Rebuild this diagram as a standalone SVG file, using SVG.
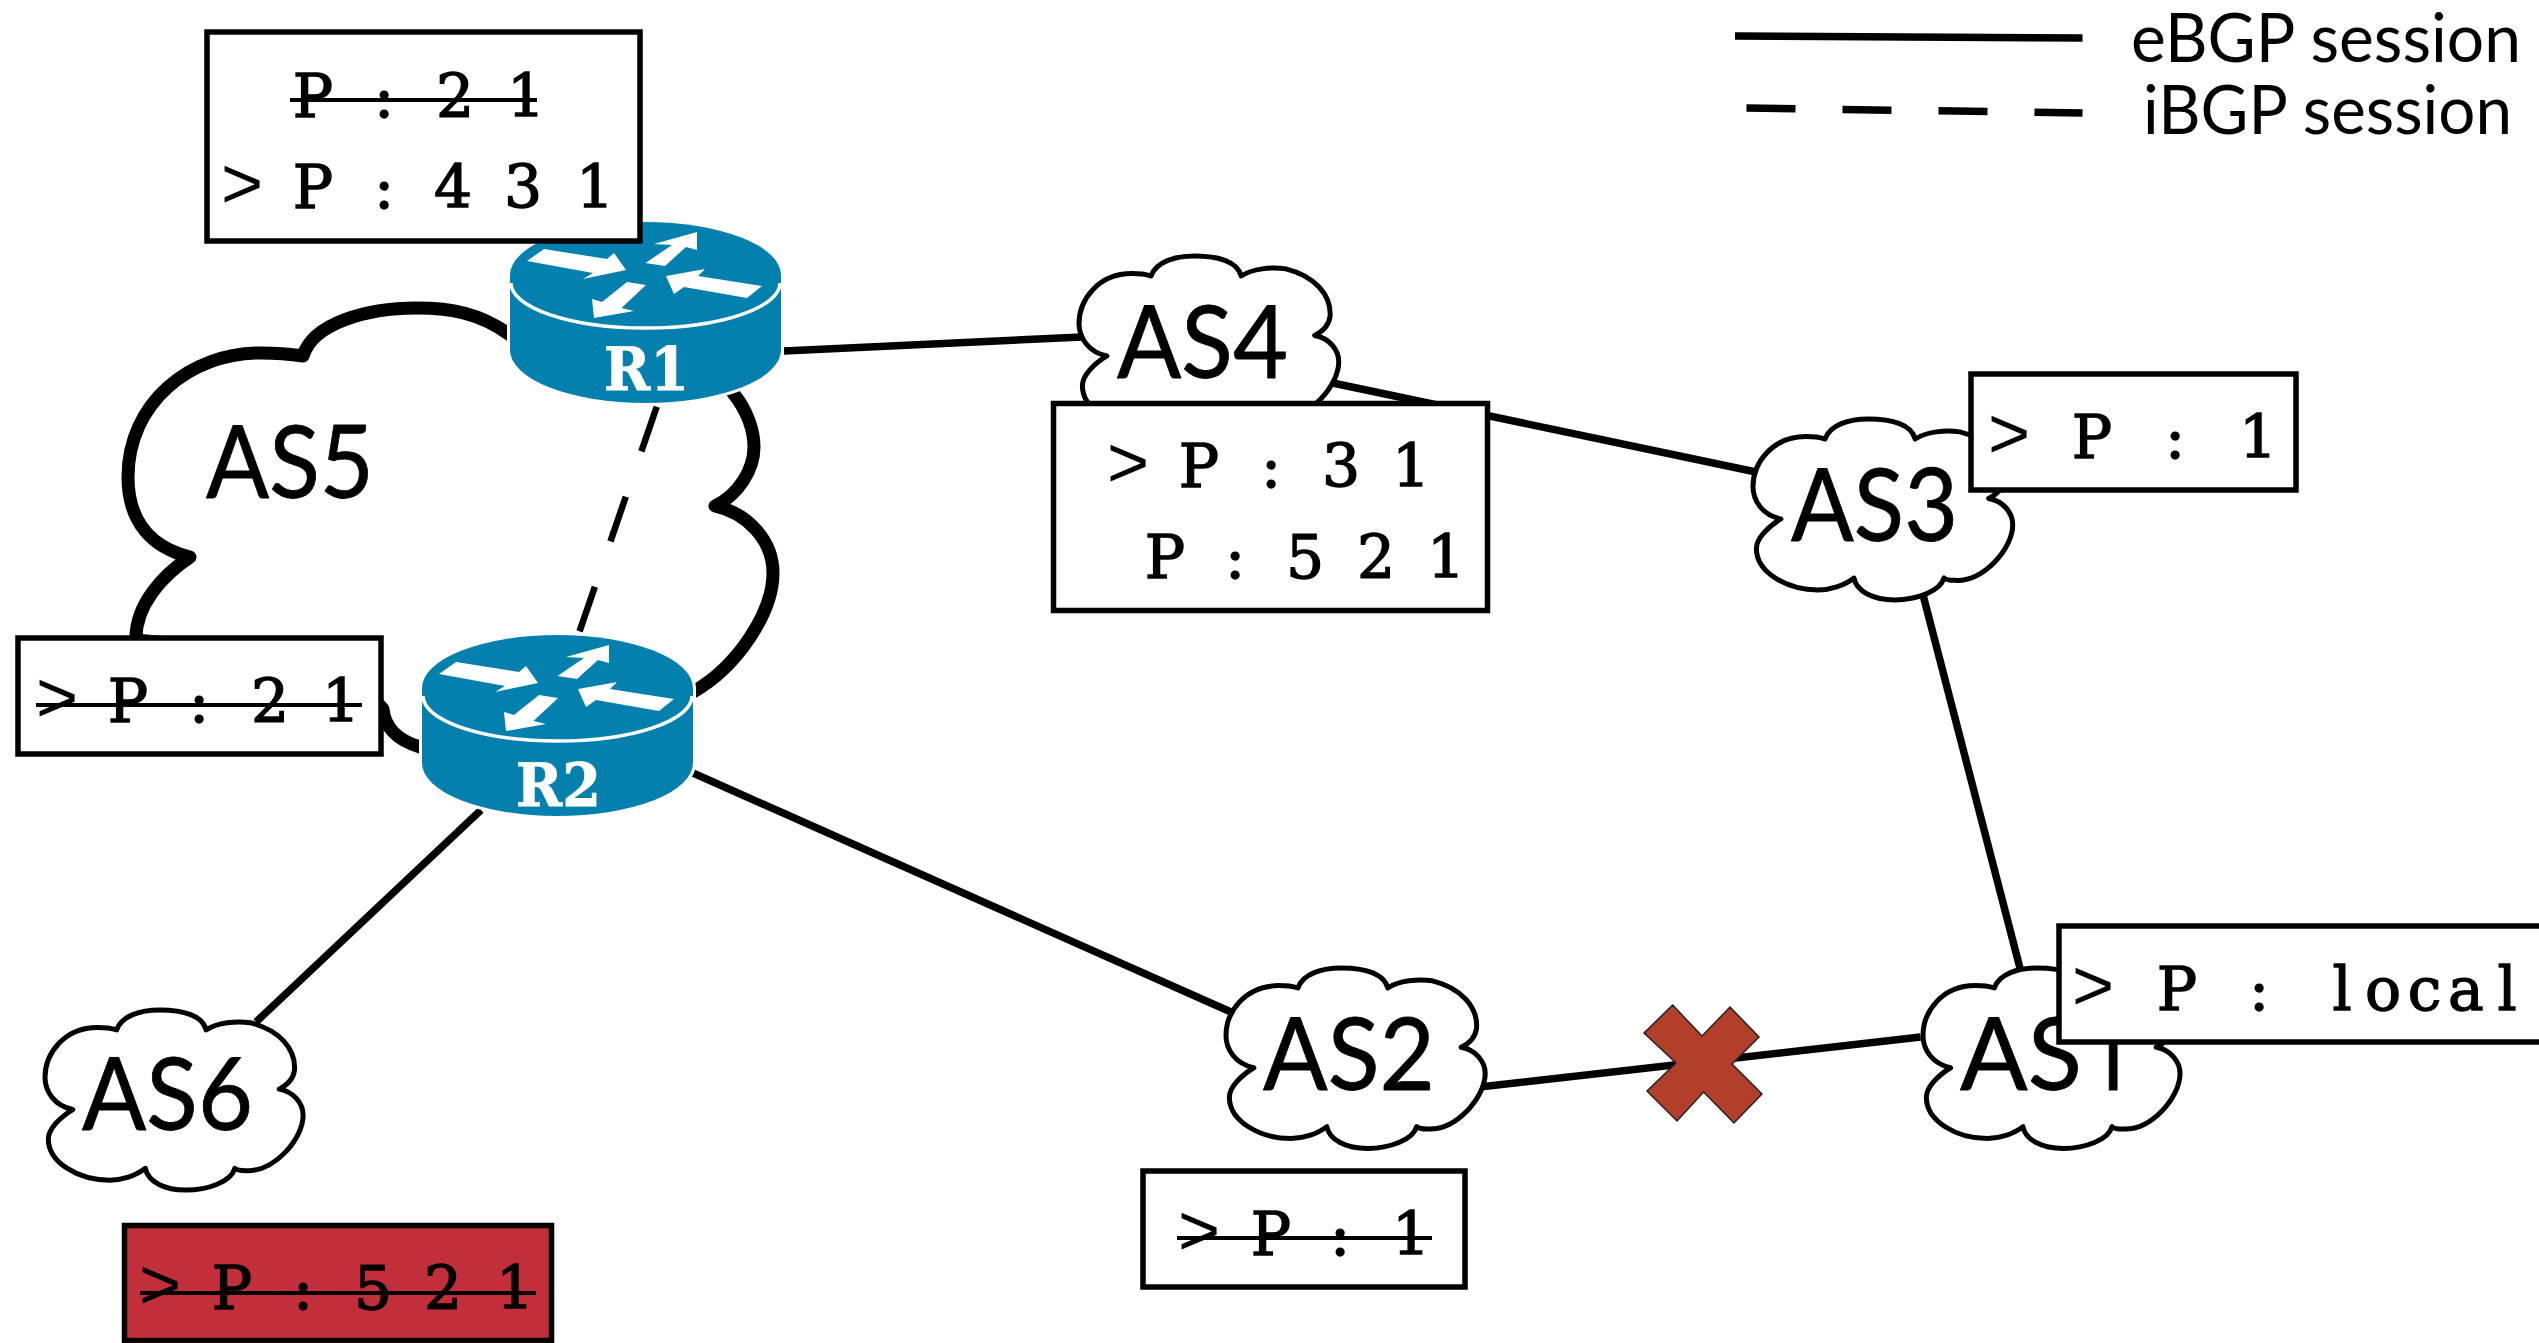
<svg xmlns="http://www.w3.org/2000/svg" width="2539" height="1343" viewBox="0 0 2539 1343">
<style>
.bg{fill:#fff}
.box{fill:#fff;stroke:#000;stroke-width:5.5}
.m{font-family:"DejaVu Serif","Liberation Serif",serif;font-size:60px;fill:#000;stroke:#000;stroke-width:1.4;text-anchor:middle}
.gt{font-family:"Liberation Mono",monospace;font-size:72px;stroke-width:0}
.s{stroke:#000;stroke-width:4;fill:none}
.l{stroke:#000;stroke-width:7.5;fill:none}
.cl{fill:#fff;stroke:#000;stroke-width:5;vector-effect:non-scaling-stroke;stroke-linejoin:round}
.g{font-family:Lato,"Open Sans",sans-serif;font-size:100px;fill:#000;stroke:#000;stroke-width:.8}
.one{font-family:"Open Sans",sans-serif}
.rt{font-family:"DejaVu Serif",serif;font-weight:bold;font-size:60px;fill:#fff;stroke:#fff;stroke-width:.8}
.lg{font-family:Lato,"Open Sans",sans-serif;font-size:68px;fill:#000}
</style>
<defs>
<path id="cloud" class="cl" d="M240 900C250 870 290 858 330 858C380 858 420 870 427 900C450 885 490 880 520 885C580 900 615 940 612 985C610 1000 600 1015 580 1025C610 1030 630 1055 630 1080C630 1130 570 1200 510 1197C500 1197 490 1195 487 1192C480 1220 430 1238 385 1238C340 1238 305 1220 300 1192C280 1208 250 1217 225 1217C160 1217 97 1180 97 1130C97 1110 120 1085 148 1068C110 1060 90 1030 90 1000C90 950 130 895 200 895C215 895 230 897 240 900Z"/>
<g id="router">
<path d="M510 275A135.500 53 0 0 1 781 275V350A135.500 53 0 0 1 510 350Z" fill="#0480ae" stroke="#fff" stroke-width="6" paint-order="stroke"/>
<path d="M511 283A134.500 45 0 0 0 780 283" fill="none" stroke="#fff" stroke-width="3.500"/>
<g fill="#fff">
<polygon points="527,261 544,249 607,259 614,253 626,270 583,279 593,273"/>
<polygon points="645.500,263 672,245 654,244 697,232 697,250 686,247 665,266"/>
<polygon points="762,286 747,298 684,287 674,294 666,276 705,269 698,276"/>
<polygon points="646,285 627,282 602,302 592,299 594,318 634,311 621.500,308"/>
</g>
</g>
</defs>
<rect class="bg" width="2539" height="1343"/>
<g id="as5">
<path d="M136 640C135 605 163 575 190 557C153 548 128 523 128 477C128 403 190 353 260 353C275 353 290 354 303 356C313 323 367 308 417 308C450 308 480 313 510 335C600 320 700 340 733 393C747 410 754 430 754 447C754 470 738 495 715 506C747 513 773 540 773 573C773 613 737 667 693 692C600 760 500 760 420 747C400 741 385 730 383 709L340 660Z" fill="#fff" stroke="#000" stroke-width="13" stroke-linejoin="round"/>
<text class="g" x="206" y="498" textLength="168" lengthAdjust="spacingAndGlyphs">AS5</text>
</g>
<g id="connectors">
<path class="l" d="M784 351L1082 337"/>
<path class="l" d="M1328 382L1756 472"/>
<path class="l" d="M1922 591L2021 972"/>
<path class="l" d="M693 773L1231 1012"/>
<path class="l" d="M1479.500 1087L1920.600 1037"/>
<path class="l" d="M481 810L256 1022"/>
<path d="M656.700 406.700L579 633" fill="none" stroke="#000" stroke-width="6.500" stroke-dasharray="47.200 48"/>
</g>
<g id="legend">
<path d="M1735 36L2082.500 38" fill="none" stroke="#000" stroke-width="7.500"/>
<path d="M1746.500 108L2082.500 113" fill="none" stroke="#000" stroke-width="7.500" stroke-dasharray="49 47"/>
<text class="lg" x="2131" y="62" textLength="390" lengthAdjust="spacingAndGlyphs">eBGP session</text>
<text class="lg" x="2143" y="134" textLength="369" lengthAdjust="spacingAndGlyphs">iBGP session</text>
</g>
<g id="as6">
<use href="#cloud" transform="translate(45 1010) scale(.478 .474) translate(-90 -858)"/>
<text class="g" x="82" y="1130" textLength="171" lengthAdjust="spacingAndGlyphs">AS6</text>
</g>
<g id="as4">
<use href="#cloud" transform="translate(1079 256) scale(.481 .476) translate(-90 -858)"/>
<text class="g" x="1117" y="378" textLength="171" lengthAdjust="spacingAndGlyphs">AS4</text>
</g>
<g id="as3">
<use href="#cloud" transform="translate(1753 419) scale(.481 .476) translate(-90 -858)"/>
<text class="g" x="1791" y="541" textLength="167" lengthAdjust="spacingAndGlyphs">AS3</text>
</g>
<g id="as2">
<use href="#cloud" transform="translate(1226 968) scale(.48 .475) translate(-90 -858)"/>
<text class="g" x="1263" y="1090" textLength="172" lengthAdjust="spacingAndGlyphs">AS2</text>
</g>
<g id="as1">
<use href="#cloud" transform="translate(1923 968) scale(.476 .475) translate(-90 -858)"/>
<text class="g" x="1960" y="1090">AS<tspan class="one">1</tspan></text>
</g>
<g id="r1">
<use href="#router"/>
<text class="rt" x="604" y="390" textLength="85" lengthAdjust="spacingAndGlyphs">R1</text>
</g>
<g id="r2">
<use href="#router" transform="translate(-88 413)"/>
<text class="rt" x="516" y="806" textLength="85" lengthAdjust="spacingAndGlyphs">R2</text>
</g>
<g id="x-mark">
<polygon points="1672.600,1005 1702,1036 1730,1007 1759,1037 1732,1064 1762,1094 1734,1123 1703.600,1092 1677,1121 1647,1091 1676,1063 1644,1033" fill="#b23f2a" stroke="#222" stroke-width="1.500"/>
</g>
<g id="rib-r1">
<rect class="box" x="207" y="32" width="433" height="209"/>
<text class="m" x="313 348.500 384 419.500 455 490.500 526" y="117">P : 2 1</text>
<path class="s" d="M290 100H537"/>
<text class="m" x="242 277.500 313 348.500 384 419.500 453 488 523 559 595" y="208"><tspan class="gt">&gt;</tspan> P : 4 3 1</text>
</g>
<g id="rib-r2">
<rect class="box" x="18" y="638" width="363" height="116"/>
<text class="m" x="57 92.500 128 163.500 199 234.500 270 305.500 341" y="722"><tspan class="gt">&gt;</tspan> P : 2 1</text>
<path class="s" d="M36 705H362"/>
</g>
<g id="rib-as6">
<rect x="124.500" y="1225.500" width="427" height="115" fill="#c22f3a" stroke="#000" stroke-width="5.500"/>
<text class="m" x="160 196 232 267.500 303 338 373 408 443 479 515" y="1309"><tspan class="gt">&gt;</tspan> P : 5 2 1</text>
<path class="s" d="M140 1293H536"/>
</g>
<g id="rib-as4">
<rect class="box" x="1053.500" y="403.500" width="434" height="207"/>
<text class="m" x="1128 1163.500 1199 1235 1271 1306 1341 1376 1411" y="487"><tspan class="gt">&gt;</tspan> P : 3 1</text>
<text class="m" x="1165 1200 1235 1270 1305 1340.500 1376 1411 1446" y="578">P : 5 2 1</text>
</g>
<g id="rib-as3">
<rect class="box" x="1971" y="374" width="325" height="116"/>
<text class="m" x="2009 2050.500 2092 2133.500 2175 2216.500 2258" y="458"><tspan class="gt">&gt;</tspan> P : 1</text>
</g>
<g id="rib-as2">
<rect class="box" x="1143" y="1171" width="322" height="116"/>
<text class="m" x="1199 1235 1271 1305.500 1340 1375.500 1411" y="1255"><tspan class="gt">&gt;</tspan> P : 1</text>
<path class="s" d="M1177 1238H1432"/>
</g>
<g id="rib-as1">
<rect class="box" x="2059" y="926" width="500" height="116"/>
<text class="m" x="2093 2135 2177 2218 2259 2300.500 2342 2383 2424.500 2466 2507" y="1010"><tspan class="gt">&gt;</tspan> P : local</text>
</g>
</svg>
